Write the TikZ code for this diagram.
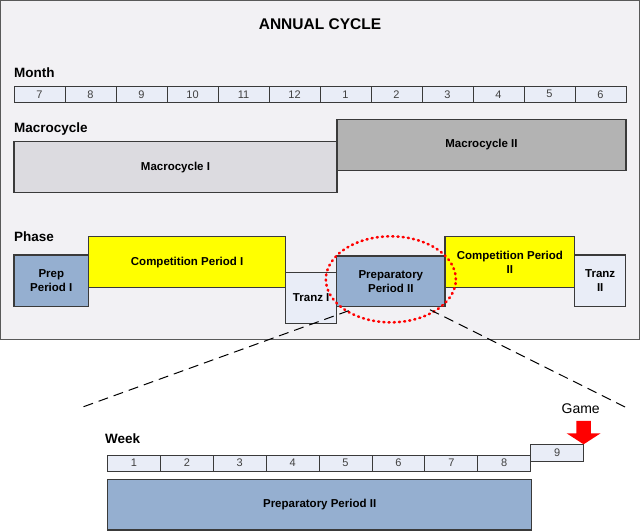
\documentclass[tikz,border=0pt]{standalone}
\usepackage{fontspec}
\setmainfont{Liberation Sans}
\definecolor{panelbg}{HTML}{F2F1F4}
\definecolor{cellfill}{HTML}{E9EDF7}
\definecolor{boxline}{HTML}{3A3A3A}
\definecolor{prepblue}{HTML}{95AFD0}
\definecolor{compyellow}{HTML}{FFFF00}
\definecolor{macroI}{HTML}{DCDBE0}
\definecolor{macroII}{HTML}{B3B3B3}
\tikzset{
  box/.style={draw=boxline,line width=1.3pt,anchor=north west,inner sep=0pt,outer sep=0pt,align=center,font=\fontsize{11.5}{14}\selectfont\bfseries},
  cell/.style={draw=boxline,line width=0.9pt,fill=cellfill,anchor=north west,inner sep=0pt,outer sep=0pt,font=\fontsize{11}{12}\selectfont,text=black!75},
  heading/.style={anchor=base west,inner sep=0pt,font=\fontsize{13.5}{15}\selectfont\bfseries},
  zoomline/.style={draw=black,line width=1pt,dash pattern=on 10pt off 6pt},
  focus/.style={draw=red,line width=2.6pt,line cap=round,dash pattern=on 1pt off 4.2pt},
}
\begin{document}
\begin{tikzpicture}[x=1pt,y=-1pt]
  \useasboundingbox (0,0) rectangle (640,532);
  \draw[draw=black!65,fill=panelbg] (0.5,0.5) rectangle (639.5,339.5);
  \path (320,30) node[anchor=base,inner sep=0pt,font=\fontsize{15.5}{17}\selectfont\bfseries] (title) {ANNUAL CYCLE};
  \path (14,78) node[heading] (monthlbl) {Month};
  \foreach \m [count=\i] in {7,8,9,10,11,12,1,2,3,4,5,6}
    \path (14+51*\i-51,86) node[cell,minimum width=51,minimum height=16.5] (m\i) {\m};
  \path (14,133) node[heading] (macrolbl) {Macrocycle};
  \path (14,141.7) node[box,fill=macroI,minimum width=323,minimum height=51] (macI) {Macrocycle I};
  \path (337,119.3) node[box,fill=macroII,minimum width=289,minimum height=51.4] (macII) {Macrocycle II};
  \path (14,241) node[heading] (phaselbl) {Phase};
  \path (14,255) node[box,fill=prepblue,minimum width=74.6,minimum height=51.7] (prepI) {Prep\\Period I};
  \path (88.6,236.7) node[box,fill=compyellow,minimum width=197.1,minimum height=51] (compI) {Competition Period I};
  \path (285.7,272.7) node[box,fill=cellfill,minimum width=51,minimum height=50.6] (tranzI) {Tranz I};
  \path (336.7,256) node[box,fill=prepblue,minimum width=108.3,minimum height=50.7] (ppii) {Preparatory\\Period II};
  \path (445,236.7) node[box,fill=compyellow,minimum width=129.7,minimum height=51] (compII) {Competition Period\\II};
  \path (574.7,255) node[box,fill=cellfill,minimum width=51,minimum height=51.7] (tranzII) {Tranz\\II};
  \draw[focus] ([yshift=2]ppii.center) ellipse [x radius=65pt,y radius=43pt];
  \coordinate (zoomL) at (80,408);
  \coordinate (zoomR) at (627,408);
  \draw[zoomline] ([shift={(12,4)}]ppii.south west) -- (zoomL);
  \draw[zoomline] ([shift={(-15,3)}]ppii.south east) -- (zoomR);
  \path (105,443) node[heading] (weeklbl) {Week};
  \foreach \w in {1,...,8}
    \path (107.5+52.9*\w-52.9,455) node[cell,minimum width=52.9,minimum height=16] (w\w) {\w};
  \path (530.7,444.3) node[cell,minimum width=52.9,minimum height=16.7] (w9) {9};
  \path (107.5,479.3) node[box,fill=prepblue,minimum width=424.3,minimum height=50.7] (ppiiweek) {Preparatory Period II};
  \path (580.7,413) node[anchor=base,inner sep=0pt,font=\fontsize{14}{16}\selectfont] (game) {Game};
  \fill[red] (w9.north east) -- ++(-17,-11) -- ++(9.8,0) -- ++(0,-12.5) -- ++(14.4,0) -- ++(0,12.5) -- ++(9.8,0) -- cycle;
\end{tikzpicture}
\end{document}
